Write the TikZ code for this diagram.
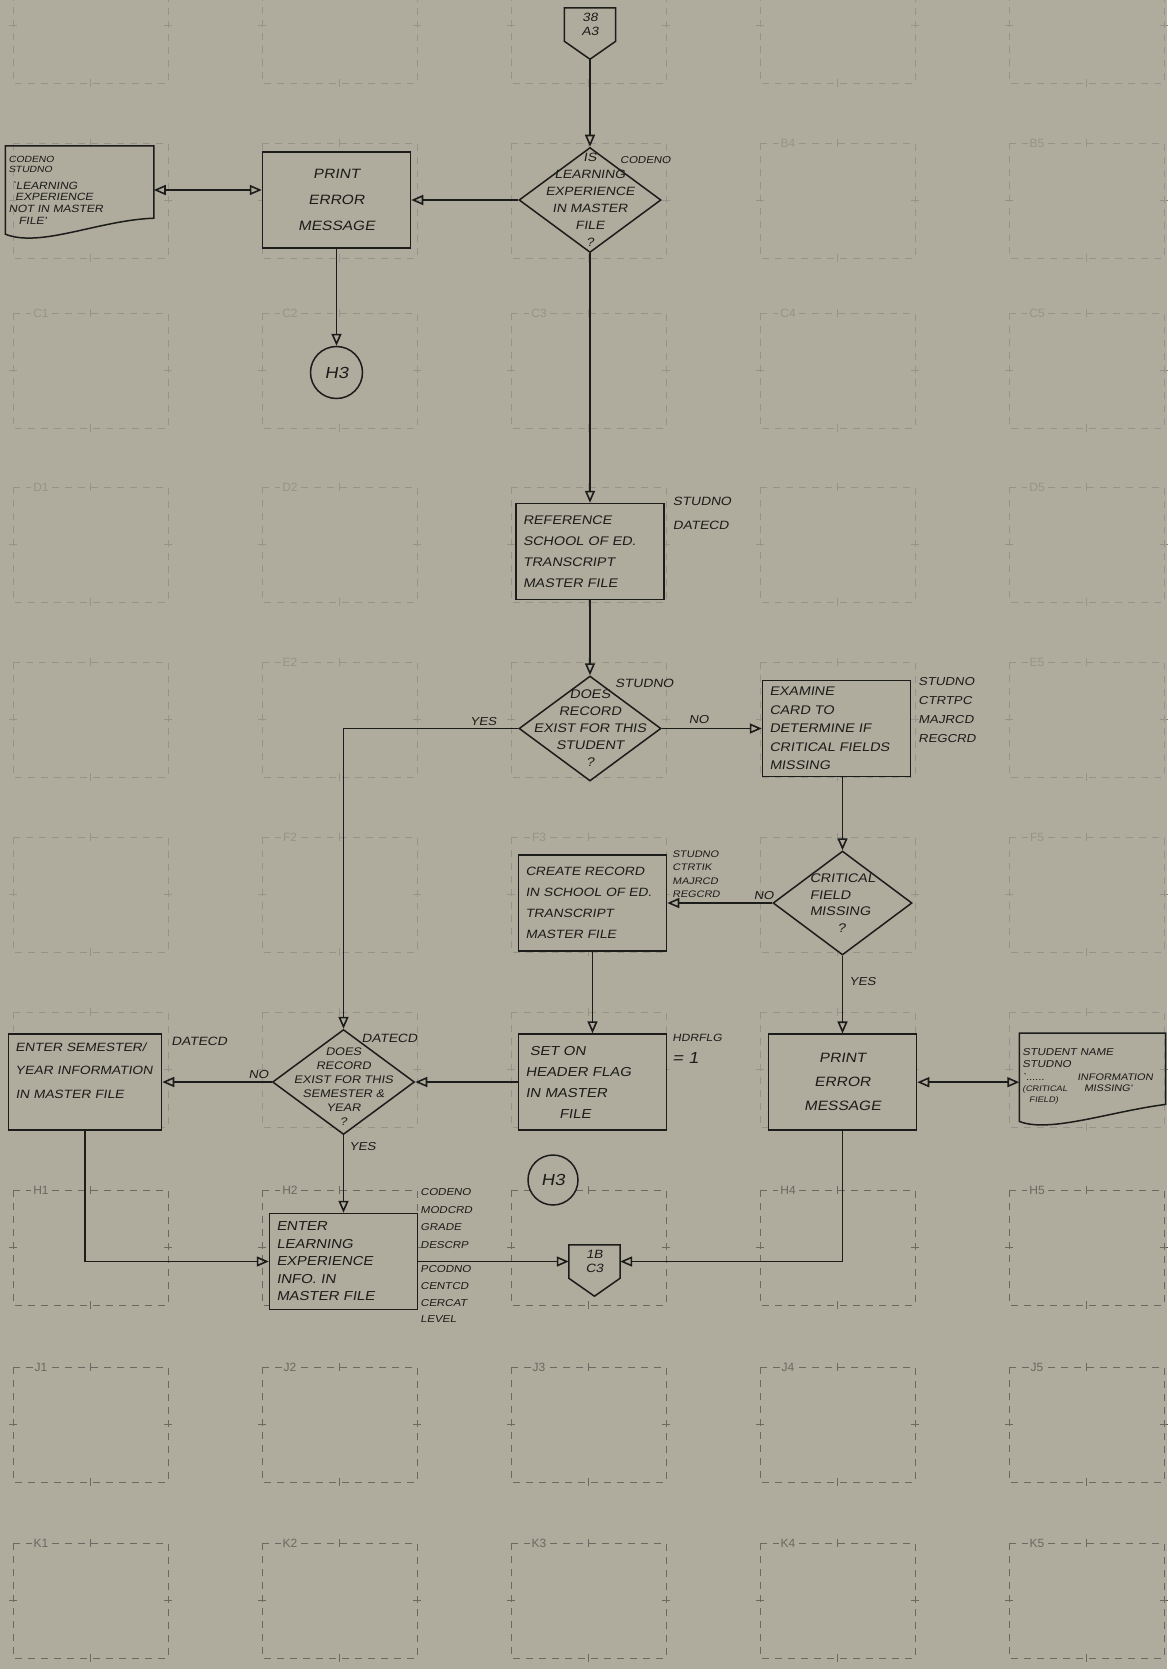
\documentclass[tikz,border=0pt]{standalone}
\usepackage{fontspec}
\newfontfamily\hand{Liberation Sans}[FakeStretch=1.15,FakeSlant=0.18]
\newfontfamily\gridfont{Liberation Sans}
\usetikzlibrary{arrows.meta,positioning,shapes.geometric,calc}
\definecolor{paper}{RGB}{175,171,157}
\definecolor{ink}{RGB}{28,28,26}
\definecolor{gridlt}{RGB}{150,147,136}
\definecolor{griddk}{RGB}{106,105,98}
\newcommand{\handfont}[2]{\hand\fontsize{#1}{#2}\selectfont}
\tikzset{
  procbox/.style={draw=ink,line width=1.5pt,fill=paper,text=ink,minimum width=148pt,
    minimum height=96pt,text width=134pt,inner xsep=7pt,align=left,font={\handfont{12.5}{21}}},
  decision/.style={diamond,draw=ink,line width=1.5pt,fill=paper,minimum width=142pt,
    minimum height=105pt,inner sep=0pt},
  dtext/.style={font={\handfont{12}{17}},align=center,text=ink,inner sep=0pt},
  docbox/.style={minimum height=88pt,text width=142pt,inner sep=3pt,align=left,text=ink},
  offpage/.style={minimum width=51pt,minimum height=33pt,inner sep=0pt,align=center,
    text=ink,font={\handfont{12}{14}}},
  onpage/.style={circle,draw=ink,line width=1.5pt,fill=paper,minimum size=52pt,inner sep=0pt,
    text=ink,font={\handfont{16}{18}}},
  lbl/.style={font={\handfont{11.5}{14}},text=ink,inner sep=0pt,align=left},
  flow/.style={draw=ink,line width=1.6pt,-{Triangle[open,length=12pt,width=10pt]}},
  biflow/.style={draw=ink,line width=1.6pt,
    {Triangle[open,length=12pt,width=10pt]}-{Triangle[open,length=12pt,width=10pt]}},
  gridbox/.style={dash pattern=on 7pt off 6pt,line width=0.8pt},
  gridlbl/.style={font={\gridfont\fontsize{12}{12}\selectfont},fill=paper,inner sep=2pt},
}

\begin{document}
\begin{tikzpicture}[x=1pt,y=-1pt]
  \useasboundingbox (0,0) rectangle (1167,1669);
  \fill[paper] (0,0) rectangle (1167,1669);

  % printed layout grid of the form
  \foreach \ry/\gc in {-32/gridlt,143/gridlt,313/gridlt,487/gridlt,662/gridlt,
      837/gridlt,1012/gridlt,1190/griddk,1367/griddk,1543/griddk} {
    \foreach \cl in {1,...,5} {
      \pgfmathsetmacro{\gx}{13+249*(\cl-1)}
      \draw[gridbox,\gc] (\gx,\ry) rectangle ++(155,115);
      \draw[\gc,line width=0.8pt] (\gx+77.5,\ry-4) -- ++(0,8) (\gx+77.5,\ry+111) -- ++(0,8)
        (\gx-4,\ry+57.5) -- ++(8,0) (\gx+151,\ry+57.5) -- ++(8,0);
    }
  }
  % grid names that are not hidden by the chart
  \foreach \rw/\ry/\cl/\gc in {B/143/4/gridlt,B/143/5/gridlt,C/313/1/gridlt,C/313/2/gridlt,
      C/313/3/gridlt,C/313/4/gridlt,C/313/5/gridlt,D/487/1/gridlt,D/487/2/gridlt,D/487/5/gridlt,
      E/662/2/gridlt,E/662/5/gridlt,F/837/2/gridlt,F/837/3/gridlt,F/837/5/gridlt,
      H/1190/1/griddk,H/1190/2/griddk,H/1190/4/griddk,H/1190/5/griddk,
      J/1367/1/griddk,J/1367/2/griddk,J/1367/3/griddk,J/1367/4/griddk,J/1367/5/griddk,
      K/1543/1/griddk,K/1543/2/griddk,K/1543/3/griddk,K/1543/4/griddk,K/1543/5/griddk} {
    \node[gridlbl,text=\gc] (g\rw\cl) at (13+249*\cl-249+28,\ry) {\rw\cl};
  }

  % upper part
  \node[decision,label={[dtext]center:{IS\\LEARNING\\EXPERIENCE\\IN MASTER\\FILE\\?}}]
    (d1) at (590,200) {};
  \node[offpage,above=105.5pt of d1] (c38) {38\\A3};
  \coordinate (c38tip) at ($(c38.south)+(0,18)$);
  \draw[ink,line width=1.5pt] (c38.north west) -- (c38.north east) -- (c38.south east)
    -- (c38tip) -- (c38.south west) -- cycle;
  \node[procbox,left=107pt of d1,align=center,font={\handfont{13.5}{26}}] (pe1)
    {PRINT\\ERROR\\MESSAGE};
  \node[docbox,left=108pt of pe1,yshift=10pt] (doc1)
    {\handfont{9}{10.5}CODENO\\STUDNO\\[5pt]\handfont{10.5}{11.5}\ `LEARNING\\\ \ EXPERIENCE\\NOT IN MASTER\\\ \ \ FILE'};
  \draw[ink,line width=1.5pt] (doc1.north west) -- (doc1.north east)
    -- ($(doc1.south east)+(0,-16)$)
    .. controls ($(doc1.south east)+(-55,-14)$) and ($(doc1.south west)+(35,14)$) .. (doc1.south west)
    -- cycle;
  \node[onpage,below=97pt of pe1] (h3a) {H3};

  % middle part
  \node[procbox,below=249.5pt of d1] (ref)
    {REFERENCE\\SCHOOL OF ED.\\TRANSCRIPT\\MASTER FILE};
  \node[decision,below=75pt of ref,
    label={[dtext,font={\handfont{12.5}{17}}]center:{DOES\\RECORD\\EXIST FOR THIS\\STUDENT\\?}}]
    (d2) {};
  \node[procbox,right=100pt of d2,font={\handfont{12.5}{18.5}}] (ex)
    {EXAMINE\\CARD TO\\DETERMINE IF\\CRITICAL FIELDS\\MISSING};
  \node[decision,minimum width=139pt,minimum height=104pt,below=73pt of ex,xshift=6pt,
    label={[dtext,align=left,font={\handfont{12.5}{16.5}}]center:{CRITICAL\\FIELD\\MISSING\\\hspace*{2.2em}?}}]
    (d3) {};
  \node[procbox,left=105pt of d3,font={\handfont{12}{21}}] (cr)
    {CREATE RECORD\\IN SCHOOL OF ED.\\TRANSCRIPT\\MASTER FILE};
  \node[procbox,below=81.5pt of cr,font={\handfont{13}{21}}] (set)
    {\ SET ON\\HEADER FLAG\\IN MASTER\\\hspace*{2.6em}FILE};

  % lower part
  \node[procbox,below=77.7pt of d3,align=center,font={\handfont{13.5}{24}}] (pe2)
    {PRINT\\ERROR\\MESSAGE};
  \node[docbox,text width=140pt,right=102pt of pe2,yshift=5pt] (doc2)
    {\handfont{10}{12}STUDENT NAME\\STUDNO\\[5pt]\handfont{9.5}{11}%
     \begin{tabular}{@{}l@{\hspace{10pt}}l@{}}`......&INFORMATION\\\handfont{8}{9}(CRITICAL&\ \ MISSING'\\\handfont{8}{9}\ \ FIELD)&\end{tabular}};
  \draw[ink,line width=1.5pt] (doc2.north west) -- (doc2.north east)
    -- ($(doc2.south east)+(0,-17)$)
    .. controls ($(doc2.south east)+(-55,-10)$) and ($(doc2.south west)+(30,12)$) .. (doc2.south west)
    -- cycle;
  \node[decision,left=102.5pt of set,
    label={[dtext,yshift=-5pt,font={\handfont{11}{14}}]center:{DOES\\RECORD\\EXIST FOR THIS\\SEMESTER \&\\YEAR\\?}}]
    (d4) {};
  \node[procbox,minimum width=153pt,text width=139pt,left=109.5pt of d4,font={\handfont{12}{23.5}}]
    (sem) {ENTER SEMESTER/\\YEAR INFORMATION\\IN MASTER FILE\\\mbox{}};
  \node[procbox,below=77.5pt of d4,font={\handfont{13}{17.5}}] (ele)
    {ENTER\\LEARNING\\EXPERIENCE\\INFO.\ IN\\MASTER FILE};
  \node[offpage,right=150.5pt of ele] (c1b) {1B\\C3};
  \coordinate (c1btip) at ($(c1b.south)+(0,18)$);
  \draw[ink,line width=1.5pt] (c1b.north west) -- (c1b.north east) -- (c1b.south east)
    -- (c1btip) -- (c1b.south west) -- cycle;
  \node[onpage,minimum size=50pt] (h3b) at (553,1180) {H3};

  % data names beside the symbols
  \node[lbl,anchor=west,font={\handfont{10}{12}}] (n-d1) at ($(d1.north)+(30,13)$) {CODENO};
  \node[lbl,anchor=north west,font={\handfont{12}{24}}] (n-ref) at ($(ref.north east)+(8,-6)$)
    {STUDNO\\DATECD};
  \node[lbl,anchor=west,font={\handfont{12}{14}}] (n-d2) at ($(d2.north)+(25,8)$) {STUDNO};
  \node[lbl,anchor=north west,font={\handfont{11.5}{19}}] (n-ex) at ($(ex.north east)+(7,-2)$)
    {STUDNO\\CTRTPC\\MAJRCD\\REGCRD};
  \node[lbl,anchor=north west,font={\handfont{9.5}{13.5}}] (n-cr) at ($(cr.north east)+(5,-4)$)
    {STUDNO\\CTRTIK\\MAJRCD\\REGCRD};
  \node[lbl,anchor=north west,font={\handfont{10.5}{22}}] (n-set) at ($(set.north east)+(5,1)$)
    {HDRFLG\\\handfont{16}{22}= 1};
  \node[lbl,anchor=west,font={\handfont{12}{14}}] (n-d4) at ($(d4.north)+(18,10)$) {DATECD};
  \node[lbl,anchor=west,font={\handfont{12}{14}}] (n-sem) at ($(sem.north east)+(9,8)$) {DATECD};
  \node[lbl,anchor=north west,font={\handfont{10}{17.5}}] (n-ele1) at ($(ele.north east)+(2,-24)$)
    {CODENO\\MODCRD\\GRADE\\DESCRP};
  \node[lbl,anchor=north west,font={\handfont{10}{16.7}}] (n-ele2) at ($(ele.east)+(2,4)$)
    {PCODNO\\CENTCD\\CERCAT\\LEVEL};

  % flow lines
  \draw[flow] (c38tip) -- (d1);
  \draw[flow] (d1) -- (pe1);
  \draw[biflow] (doc1.east) -- (doc1.east -| pe1.west);
  \draw[flow] (pe1) -- (h3a);
  \draw[flow] (d1) -- (ref);
  \draw[flow] (ref) -- (d2);
  \draw[flow] (d2) -- (ex) node[lbl,pos=0.37,above=4pt] (l-no1) {NO};
  \draw[flow] (d2) -| (d4) node[lbl,pos=0.1,above=2pt] (l-yes1) {YES};
  \draw[flow] (ex.south -| d3) -- (d3);
  \draw[flow] (d3) -- (cr) node[lbl,pos=0.08,above=3pt] (l-no2) {NO};
  \draw[flow] (d3) -- (pe2) node[lbl,pos=0.33,right=6pt] (l-yes2) {YES};
  \draw[biflow] (pe2.east) -- (pe2.east -| doc2.west);
  \draw[flow] (cr) -- (set);
  \draw[flow] (set) -- (d4);
  \draw[flow] (d4) -- (sem) node[lbl,pos=0.12,above=3pt] (l-no3) {NO};
  \draw[flow] (d4) -- (ele) node[lbl,pos=0.15,right=5pt] (l-yes3) {YES};
  \draw[flow] (sem) |- (ele);
  \draw[flow] (ele) -- (c1b);
  \draw[flow] (pe2) |- (c1b);
\end{tikzpicture}
\end{document}
